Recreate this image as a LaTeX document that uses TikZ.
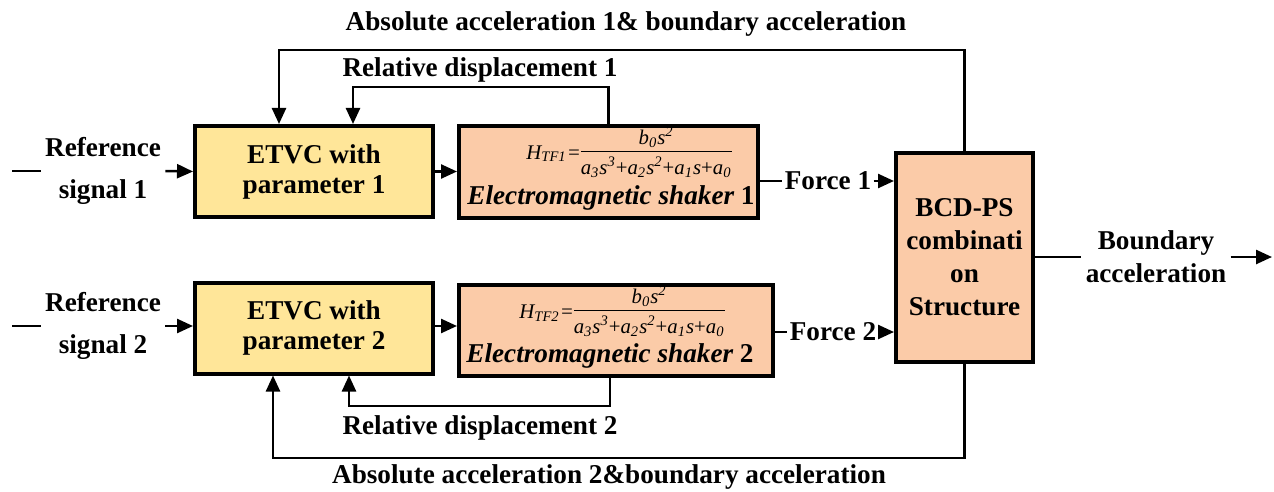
\documentclass[tikz,border=0pt]{standalone}
\usepackage{fontspec}
\setmainfont{Liberation Serif}
\usetikzlibrary{arrows.meta}
\definecolor{boxyellow}{HTML}{FFE699}
\definecolor{boxorange}{HTML}{FBCBA8}
\newcommand\tfrac[2]{\setlength{\arrayrulewidth}{0.7pt}\setlength{\tabcolsep}{0pt}\renewcommand{\arraystretch}{1.0}\begin{tabular}{c}#1\\\hline\rule{0pt}{1.05em}#2\end{tabular}}
\newcommand\pl{{\upshape+}}
\begin{document}
\begin{tikzpicture}[x=0.5pt,y=-0.5pt,
  lbl/.style={font=\fontsize{13.6}{16.5}\selectfont\bfseries, align=center, inner sep=2pt},
  blk/.style={draw=black, line width=2pt, inner sep=0pt},
  etvc/.style={blk, fill=boxyellow, minimum width=119pt, minimum height=45.5pt, font=\fontsize{13.6}{15}\selectfont\bfseries, align=center},
  shaker/.style={blk, fill=boxorange, minimum height=45.5pt},
  shk/.style={font=\fontsize{13.6}{16}\selectfont\bfseries\itshape, inner sep=0pt},
  frm/.style={font=\fontsize{10.4}{11}\selectfont\itshape, inner sep=0pt},
  wire/.style={line width=1.25pt},
  arr/.style={wire, -{Triangle[length=8pt,width=7pt]}}
]
\useasboundingbox (0,0) rectangle (1274,492);

% blocks
\node[etvc] (etvc1) at (314,171.5) {ETVC with\\parameter 1};
\node[etvc] (etvc2) at (314,328) {ETVC with\\parameter 2};
\node[shaker, minimum width=149.5pt] (sh1) at (608.5,172) {};
\node[shaker, minimum width=157pt] (sh2) at (616,330) {};
\node[blk, fill=boxorange, minimum width=68.5pt, minimum height=104.5pt,
      font=\fontsize{13.6}{16.5}\selectfont\bfseries, align=center] (bcd) at (964.5,257.5)
      {BCD-PS\\combinati\\on\\Structure};

% shaker contents
\node[frm] (f1) at (629,154) {H\textsubscript{TF1}=\tfrac{b\textsubscript{0}s\textsuperscript{2}}{a\textsubscript{3}s\textsuperscript{3}\pl a\textsubscript{2}s\textsuperscript{2}\pl a\textsubscript{1}s\pl a\textsubscript{0}}};
\node[shk] (t1) at (611,198) {Electromagnetic shaker {\upshape 1}};
\node[frm] (f2) at (622,313) {H\textsubscript{TF2}=\tfrac{b\textsubscript{0}s\textsuperscript{2}}{a\textsubscript{3}s\textsuperscript{3}\pl a\textsubscript{2}s\textsuperscript{2}\pl a\textsubscript{1}s\pl a\textsubscript{0}}};
\node[shk] (t2) at (610,356) {Electromagnetic shaker {\upshape 2}};

% labels
\node[lbl, font=\fontsize{13.6}{21}\selectfont\bfseries] (ref1) at (103,171) {Reference\\signal 1};
\node[lbl, font=\fontsize{13.6}{21}\selectfont\bfseries] (ref2) at (103,326) {Reference\\signal 2};
\node[lbl, inner sep=1pt] (force1) at (828,181) {Force 1};
\node[lbl, inner sep=1pt] (force2) at (833,332) {Force 2};
\node[lbl] (bound) at (1156,257) {Boundary\\acceleration};
\node[lbl] (abs1) at (626,24) {Absolute acceleration 1\& boundary acceleration};
\node[lbl] (rel1) at (480,70) {Relative displacement 1};
\node[lbl] (rel2) at (480,428) {Relative displacement 2};
\node[lbl] (abs2) at (609,477) {Absolute acceleration 2\&boundary acceleration};

% coordinates
\coordinate (in1) at (12,171);
\coordinate (in2) at (12,326);
\coordinate (out) at (1272,257);
\coordinate (ta) at (279,50);
\coordinate (tr) at (353,87);
\coordinate (br) at (349,406);
\coordinate (brs) at (610,406);
\coordinate (ba) at (273,458);

% connectors
\draw[wire] (in1) -- (ref1.west);
\draw[arr] (ref1.east) -- (etvc1.west);
\draw[wire] (in2) -- (ref2.west);
\draw[arr] (ref2.east) -- (etvc2.west |- ref2.east);
\draw[arr] (etvc1.east) -- (sh1.west |- etvc1.east);
\draw[arr] (etvc2.east |- ref2.east) -- (sh2.west |- ref2.east);
\draw[wire] (sh1.east |- force1.west) -- (force1.west);
\draw[arr] (force1.east) -- (bcd.west |- force1.east);
\draw[wire] (sh2.east |- force2.west) -- (force2.west);
\draw[arr] (force2.east) -- (bcd.west |- force2.east);
\draw[wire] (bcd.east |- bound.west) -- (bound.west);
\draw[arr] (bound.east) -- (out);
\draw[arr] (bcd.north) |- (ta) -- (ta |- etvc1.north);
\draw[arr] (sh1.north) |- (tr) -- (tr |- etvc1.north);
\draw[arr] (brs |- sh2.south) -- (brs) -- (br) -- (br |- etvc2.south);
\draw[arr] (bcd.south) |- (ba) -- (ba |- etvc2.south);
\end{tikzpicture}
\end{document}
